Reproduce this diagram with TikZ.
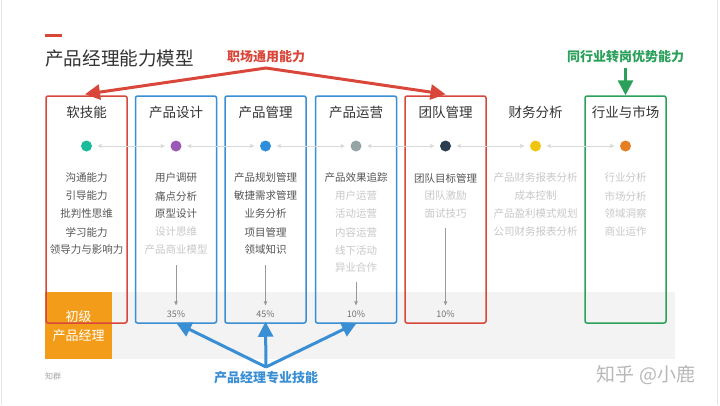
\documentclass[tikz,border=0pt]{standalone}
\usepackage{fontspec}
\setmainfont{Noto Sans CJK SC}
\usetikzlibrary{arrows.meta}
\definecolor{cred}{HTML}{D9473B}
\definecolor{cblue}{HTML}{3A8FD4}
\definecolor{cgreen}{HTML}{2BA05A}
\definecolor{corange}{HTML}{F39C1A}
\definecolor{dark}{HTML}{555555}
\definecolor{light}{HTML}{C8C8C8}
\definecolor{band}{HTML}{F3F3F3}
\definecolor{framec}{HTML}{E6E6E6}
\definecolor{titlec}{HTML}{333333}
\definecolor{dteal}{HTML}{1ABC9C}
\definecolor{dpurple}{HTML}{9B59B6}
\definecolor{dblue}{HTML}{2E8EDB}
\definecolor{dgray}{HTML}{95A5A6}
\definecolor{dnavy}{HTML}{2C3E50}
\definecolor{dyellow}{HTML}{F1C40F}
\definecolor{dorange}{HTML}{E67E22}
\begin{document}
\begin{tikzpicture}[x=1pt,y=-1pt,
  colbox/.style={draw, line width=1.5pt, rounded corners=2pt, minimum width=81pt, minimum height=227pt, inner sep=0pt},
  coltitle/.style={font=\fontsize{13.5}{15}\selectfont, text=titlec, inner sep=0pt},
  item/.style={font=\fontsize{10.5}{12}\selectfont, inner sep=0pt},
  dotn/.style={circle, fill=#1, minimum size=11pt, inner sep=0pt},
  dotarrow/.style={draw=light!70, line width=0.8pt, {Triangle[length=4pt,width=4pt]}-{Triangle[length=4pt,width=4pt]}, shorten <=5.5pt, shorten >=5.5pt},
  grayarrow/.style={draw=black!40, line width=0.8pt, -{Triangle[length=4pt,width=3.5pt]}},
  pct/.style={font=\fontsize{9}{10}\selectfont, text=black!55, inner sep=2pt},
  bigarrow/.style={line width=3pt, -{Triangle[length=15pt,width=15pt]}},
  lab/.style={font=\fontsize{13}{15}\selectfont\bfseries, inner sep=0pt}
]
\useasboundingbox (0,0) rectangle (720,405);
\fill[white] (0,0) rectangle (720,405);
\draw[framec, line width=1pt] (1.5,0) -- (1.5,405);
\draw[framec, line width=1pt] (717.5,0) -- (717.5,405);

% title
\fill[cred] (45,33.5) rectangle (62,36.5);
\node[anchor=west, inner sep=0pt, font=\fontsize{18.6}{20}\selectfont, text=titlec] (title) at (45,58) {产品经理能力模型};

% band and level box
\fill[band] (45,292) rectangle (675,359);
\node[fill=corange, minimum width=67pt, minimum height=67pt, inner sep=0pt, anchor=north west] (lvl) at (45,292) {};
\node[font=\fontsize{13}{15}\selectfont, text=white, inner sep=0pt] (lvl1) at (78.5,317) {初级};
\node[font=\fontsize{13}{15}\selectfont, text=white, inner sep=0pt] (lvl2) at (78.5,336) {产品经理};

% boxes
\node[colbox, draw=cred] (b1) at (86.5,209.5) {};
\node[colbox, draw=cblue] (b2) at (176,209.5) {};
\node[colbox, draw=cblue] (b3) at (265.5,209.5) {};
\node[colbox, draw=cblue] (b4) at (356,209.5) {};
\node[colbox, draw=cred] (b5) at (445.5,209.5) {};
\node[colbox, draw=cgreen] (b7) at (625.5,209.5) {};

% column titles
\node[coltitle] (t1) at (86.5,112) {软技能};
\node[coltitle] (t2) at (176,112) {产品设计};
\node[coltitle] (t3) at (265.5,112) {产品管理};
\node[coltitle] (t4) at (356,112) {产品运营};
\node[coltitle] (t5) at (445.5,112) {团队管理};
\node[coltitle] (t6) at (535.5,112) {财务分析};
\node[coltitle] (t7) at (625.5,112) {行业与市场};

% dots
\node[dotn=dteal] (d1) at (86.5,146) {};
\node[dotn=dpurple] (d2) at (176,146) {};
\node[dotn=dblue] (d3) at (265.5,146) {};
\node[dotn=dgray] (d4) at (356,146) {};
\node[dotn=dnavy] (d5) at (445.5,146) {};
\node[dotn=dyellow] (d6) at (535.5,146) {};
\node[dotn=dorange] (d7) at (625.5,146) {};
\draw[dotarrow] (d1) -- (d2);
\draw[dotarrow] (d2) -- (d3);
\draw[dotarrow] (d3) -- (d4);
\draw[dotarrow] (d4) -- (d5);
\draw[dotarrow] (d5) -- (d6);
\draw[dotarrow] (d6) -- (d7);

% items
\foreach[count=\i] \t/\c in {沟通能力/dark,引导能力/dark,批判性思维/dark,学习能力/dark,领导力与影响力/dark}
  \node[item, text=\c] (ia\i) at (86.5,{160+18*\i}) {\t};
\foreach[count=\i] \t/\c in {用户调研/dark,痛点分析/dark,原型设计/dark,设计思维/light,产品商业模型/light}
  \node[item, text=\c] (ib\i) at (176,{160+18*\i}) {\t};
\foreach[count=\i] \t/\c in {产品规划管理/dark,敏捷需求管理/dark,业务分析/dark,项目管理/dark,领域知识/dark}
  \node[item, text=\c] (ic\i) at (265.5,{160+18*\i}) {\t};
\foreach[count=\i] \t/\c in {产品效果追踪/dark,用户运营/light,活动运营/light,内容运营/light,线下活动/light,异业合作/light}
  \node[item, text=\c] (id\i) at (356,{160+18*\i}) {\t};
\foreach[count=\i] \t/\c in {团队目标管理/dark,团队激励/light,面试技巧/light}
  \node[item, text=\c] (ie\i) at (445.5,{160+18*\i}) {\t};
\foreach[count=\i] \t/\c in {产品财务报表分析/light,成本控制/light,产品盈利模式规划/light,公司财务报表分析/light}
  \node[item, text=\c] (if\i) at (535.5,{160+18*\i}) {\t};
\foreach[count=\i] \t/\c in {行业分析/light,市场分析/light,领域洞察/light,商业运作/light}
  \node[item, text=\c] (ig\i) at (625.5,{160+18*\i}) {\t};

% percentages
\node[pct] (p2) at (176,314) {35\%};
\node[pct] (p3) at (265.5,314) {45\%};
\node[pct] (p4) at (356,314) {10\%};
\node[pct] (p5) at (445.5,314) {10\%};
\coordinate (a2) at (176,265);
\coordinate (a3) at (265.5,265);
\coordinate (a4) at (356,282);
\coordinate (a5) at (445.5,228);
\draw[grayarrow, shorten >=3pt] (a2) -- (p2.north);
\draw[grayarrow, shorten >=3pt] (a3) -- (p3.north);
\draw[grayarrow, shorten >=3pt] (a4) -- (p4.north);
\draw[grayarrow, shorten >=3pt] (a5) -- (p5.north);

% red label and arrows
\node[lab, text=cred] (lred) at (266,57) {职场通用能力};
\coordinate (rs) at (266,68);
\draw[bigarrow, draw=cred, fill=cred] (rs) -- ([xshift=-1.5pt,yshift=1pt]b1.north);
\draw[bigarrow, draw=cred, fill=cred] (rs) -- ([yshift=1pt]b5.north);

% green label and arrow
\node[lab, text=cgreen] (lgreen) at (625.5,57) {同行业转岗优势能力};
\coordinate (gs) at (625.5,68);
\draw[bigarrow, draw=cgreen, fill=cgreen] (gs) -- (b7.north);

% blue label and arrows
\node[lab, text=cblue] (lblue) at (266,378) {产品经理专业技能};
\coordinate (bs) at (266,367);
\draw[bigarrow, draw=cblue, fill=cblue, shorten >=-2pt] (bs) -- ([xshift=2pt]b2.south);
\draw[bigarrow, draw=cblue, fill=cblue, shorten >=-2pt] (bs) -- (b3.south);
\draw[bigarrow, draw=cblue, fill=cblue, shorten >=-2pt] (bs) -- ([xshift=-1pt]b4.south);

% footer
\node[anchor=west, inner sep=0pt, font=\fontsize{8}{9}\selectfont, text=black!35] (zq) at (45,376) {知群};
\node[inner sep=0pt, font=\fontsize{19}{21}\selectfont, text=black!28] (wm) at (646,375) {知乎 @小鹿};
\end{tikzpicture}
\end{document}
